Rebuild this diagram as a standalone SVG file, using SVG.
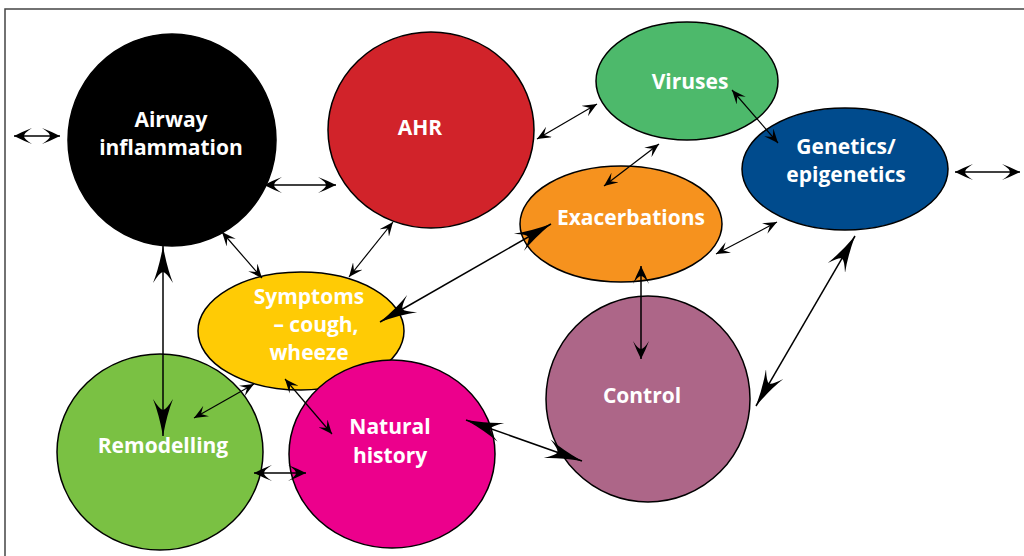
<svg xmlns="http://www.w3.org/2000/svg" width="1024" height="556" viewBox="0 0 1024 556">
  <style>
    .node ellipse { stroke: #000; stroke-width: 1.5; }
    .node text { fill: #fff; font-family: "Open Sans", Lato, "Liberation Sans", sans-serif; font-weight: bold; font-size: 21px; text-anchor: middle; }
    .link { fill: none; stroke: #000; stroke-width: 1.2; }
    .thin { marker-start: url(#headS); marker-end: url(#headS); }
    .mid { stroke-width: 1.5; marker-start: url(#headM); marker-end: url(#headM); }
    .bold { stroke-width: 1.5; marker-start: url(#headL); marker-end: url(#headL); }
  </style>
  <defs>
    <marker id="headS" markerUnits="userSpaceOnUse" markerWidth="14" markerHeight="12" refX="14" refY="6" orient="auto-start-reverse" viewBox="0 0 14 12">
      <path d="M14,6 L0,0 L6,6 L0,12 Z" fill="#000"/>
    </marker>
    <marker id="headM" markerUnits="userSpaceOnUse" markerWidth="18" markerHeight="16" refX="18" refY="8" orient="auto-start-reverse" viewBox="0 0 18 16">
      <path d="M18,8 Q8,3 0,0 Q8,5 8,8 Q8,11 0,16 Q8,13 18,8 Z" fill="#000"/>
    </marker>
    <marker id="headL" markerUnits="userSpaceOnUse" markerWidth="40" markerHeight="20" refX="40" refY="10" orient="auto-start-reverse" viewBox="0 0 40 20">
      <path d="M40,10 Q18,6 3,0 Q14,7 14,10 Q14,13 3,20 Q18,14 40,10 Z" fill="#000"/>
    </marker>
  </defs>

  <rect width="1024" height="556" fill="#fff"/>
  <!-- page frame -->
  <path d="M5,556 V9 H1024" fill="none" stroke="#444" stroke-width="1.5"/>

  <g id="node-airway" class="node">
    <ellipse cx="172" cy="140" rx="104" ry="106" fill="#000"/>
    <text x="171" y="127">Airway</text>
    <text x="171" y="155">inflammation</text>
  </g>
  <g id="node-ahr" class="node">
    <ellipse cx="431" cy="130" rx="103" ry="98" fill="#d1232a"/>
    <text x="420" y="135">AHR</text>
  </g>
  <g id="node-viruses" class="node">
    <ellipse cx="687" cy="81" rx="91" ry="59" fill="#4db96b"/>
    <text x="690" y="89">Viruses</text>
  </g>
  <g id="node-genetics" class="node">
    <ellipse cx="845" cy="169" rx="103" ry="61" fill="#004b8d"/>
    <text x="846" y="154">Genetics/</text>
    <text x="846" y="182">epigenetics</text>
  </g>
  <g id="node-exacerbations" class="node">
    <ellipse cx="621" cy="224" rx="101" ry="58" fill="#f6921e"/>
    <text x="631" y="225">Exacerbations</text>
  </g>
  <g id="node-symptoms" class="node">
    <ellipse cx="301" cy="331" rx="103" ry="59" fill="#ffcb05"/>
    <text x="309" y="304">Symptoms</text>
    <text x="316" y="332">– cough,</text>
    <text x="309" y="360">wheeze</text>
  </g>
  <g id="node-control" class="node">
    <ellipse cx="648" cy="399" rx="102" ry="103" fill="#ad6688"/>
    <text x="642" y="403">Control</text>
  </g>
  <g id="node-remodelling" class="node">
    <ellipse cx="160" cy="452" rx="103" ry="98" fill="#7ac143"/>
    <text x="163" y="453">Remodelling</text>
  </g>
  <g id="node-natural-history" class="node">
    <ellipse cx="392" cy="454" rx="103" ry="94" fill="#ec008c"/>
    <text x="390" y="434">Natural</text>
    <text x="390" y="463">history</text>
  </g>

  <g id="connectors">
    <line class="link mid" x1="14" y1="136" x2="60" y2="136"/>
    <line class="link mid" x1="955" y1="172" x2="1020" y2="172"/>
    <line class="link mid" x1="264" y1="185" x2="336" y2="185"/>
    <line class="link thin" x1="537" y1="139" x2="597" y2="104"/>
    <line class="link thin" x1="659" y1="144" x2="604" y2="186"/>
    <line class="link thin" x1="732" y1="90" x2="778" y2="143"/>
    <line class="link thin" x1="716" y1="254" x2="777" y2="222"/>
    <line class="link mid" x1="641" y1="266" x2="641" y2="359"/>
    <line class="link bold" x1="855" y1="236" x2="756" y2="406"/>
    <line class="link bold" x1="380" y1="322" x2="551" y2="224"/>
    <line class="link thin" x1="393" y1="222" x2="349" y2="277"/>
    <line class="link thin" x1="222" y1="232" x2="262" y2="278"/>
    <line class="link bold" x1="163" y1="246" x2="163" y2="436"/>
    <line class="link thin" x1="254" y1="384" x2="194" y2="418"/>
    <line class="link thin" x1="285" y1="379" x2="332" y2="434"/>
    <line class="link mid" x1="254" y1="473" x2="306" y2="473"/>
    <line class="link bold" x1="466" y1="420" x2="582" y2="461"/>
  </g>
</svg>
